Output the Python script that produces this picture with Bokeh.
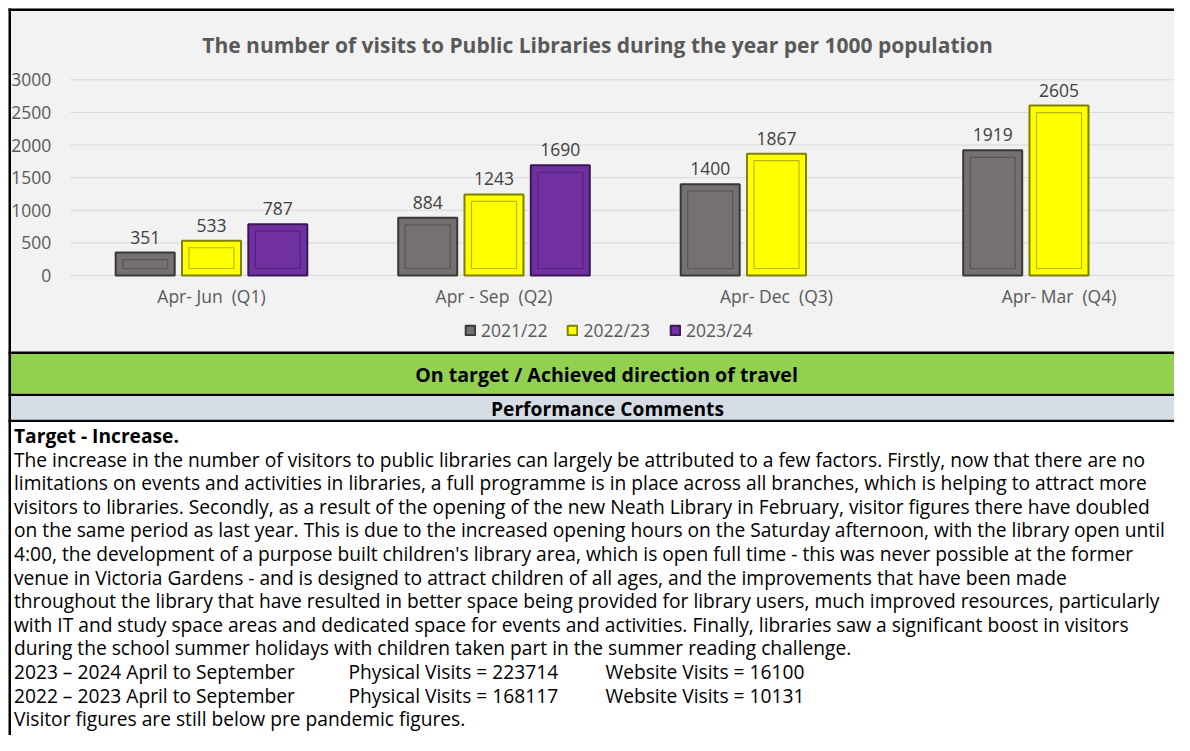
from bokeh.plotting import figure
from bokeh.models import Range1d, Legend, LegendItem, ColumnDataSource
from bokeh.transform import dodge
from bokeh.core.properties import value
from bokeh.embed import file_html
from bokeh.resources import INLINE

# ---------------- data ----------------
quarters = ["Apr- Jun  (Q1)", "Apr - Sep  (Q2)", "Apr- Dec  (Q3)", "Apr- Mar  (Q4)"]
series_names = ["2021/22", "2022/23", "2023/24"]
v_2021_22 = [351, 884, 1400, 1919]
v_2022_23 = [533, 1243, 1867, 2605]
v_2023_24 = [787, 1690]           # only Q1 and Q2 reported so far
y_ticks = [0, 500, 1000, 1500, 2000, 2500, 3000]

title_text = "The number of visits to Public Libraries during the year per 1000 population"
status_text = "On target / Achieved direction of travel"
comments_header = "Performance Comments"
target_line = "Target - Increase."
body_lines = [
    "The increase in the number of visitors to public libraries can largely be attributed to a few factors. Firstly, now that there are no",
    "limitations on events and activities in libraries, a full programme is in place across all branches, which is helping to attract more",
    "visitors to libraries. Secondly, as a result of the opening of the new Neath Library in February, visitor figures there have doubled",
    "on the same period as last year. This is due to the increased opening hours on the Saturday afternoon, with the library open until",
    "4:00, the development of a purpose built children's library area, which is open full time - this was never possible at the former",
    "venue in Victoria Gardens - and is designed to attract children of all ages, and the improvements that have been made",
    "throughout the library that have resulted in better space being provided for library users, much improved resources, particularly",
    "with IT and study space areas and dedicated space for events and activities. Finally, libraries saw a significant boost in visitors",
    "during the school summer holidays with children taken part in the summer reading challenge.",
]
periods = ["2023 \u2013 2024 April to September", "2022 \u2013 2023 April to September"]
physical_visits = [223714, 168117]
website_visits = [16100, 10131]
closing_line = "Visitor figures are still below pre pandemic figures."

# ---------------- styles / geometry ----------------
FONT = "Open Sans"
BG = "#f2f2f2"
GRAY = dict(fill="#767171", line="#3a3737", inner="#595555")
YELLOW = dict(fill="#ffff00", line="#7f7f00", inner="#b8b800")
PURPLE = dict(fill="#7030a0", line="#3a1856", inner="#55227c")
bar_styles = [GRAY, YELLOW, PURPLE]

W, H = 1174, 735
CAT_PX = 282.5          # pixels per category
CAT0_PX = 211.0         # canvas x of first category centre
VAL_ZERO_PX = 275.0     # canvas y of value 0
VAL_PER_PX = 3000 / 195.7
BAR_W = 59 / CAT_PX
OFF = 66.3 / CAT_PX
EDGE = 8                # outer white margin of the original panel

p = figure(width=W, height=H, output_backend="svg", toolbar_location=None,
           x_range=Range1d(0, W), y_range=Range1d(H, 0),
           x_axis_location=None, y_axis_location=None, min_border=0,
           background_fill_color="white", border_fill_color="white")
p.outline_line_color = None
p.grid.visible = False

# chart scales (category index / visits per 1000)
p.extra_x_ranges = {"cat": Range1d(-CAT0_PX / CAT_PX, (W - CAT0_PX) / CAT_PX)}
p.extra_y_ranges = {"val": Range1d(-(H - VAL_ZERO_PX) * VAL_PER_PX, VAL_ZERO_PX * VAL_PER_PX)}
CR = dict(x_range_name="cat", y_range_name="val")

# ---------------- panel backgrounds & rules ----------------
p.quad(left=[EDGE] * 7, right=[W] * 7,
       top=[EDGE, 351, 353.5, 393.3, 395.6, 419.3, EDGE],
       bottom=[351, 353.5, 393.3, 395.6, 419.3, 421.6, EDGE + 2.5],
       fill_color=[BG, "black", "#92d050", "black", "#d6dce4", "black", "black"],
       line_color=None)
p.quad(left=[EDGE], right=[EDGE + 2.5], top=[EDGE], bottom=[H], fill_color="black", line_color=None)

# ---------------- chart ----------------
n_cat = len(quarters)
CH = dict(text_font=value(FONT), text_font_size="17.5px")
p.segment(x0=[-0.5] * len(y_ticks), x1=[n_cat - 0.5] * len(y_ticks), y0=y_ticks, y1=y_ticks,
          line_color="#d9d9d9", line_width=1, **CR)
p.text(x=[-0.5] * len(y_ticks), y=y_ticks, text=[str(t) for t in y_ticks],
       x_offset=-19, text_align="right", text_baseline="middle",
       text_color="#595959", **CH, **CR)
p.text(x=list(range(n_cat)), y=[0] * n_cat, text=[q.replace("  ", " \u00a0") for q in quarters],
       y_offset=20, text_align="center", text_baseline="middle",
       text_color="#595959", **CH, **CR)

all_series = [v_2021_22, v_2022_23, v_2023_24]
offsets = [-OFF, 0.0, OFF]
renderers = []
for vals, off, st in zip(all_series, offsets, bar_styles):
    src = ColumnDataSource(dict(
        x=list(range(len(vals))), top=vals,
        inner_top=[v - 7 * VAL_PER_PX for v in vals],
        lbl=[str(v) for v in vals]))
    xs = dodge("x", off, range=p.extra_x_ranges["cat"])
    r = p.vbar(x=xs, top="top", bottom=0, width=BAR_W, source=src,
               fill_color=st["fill"], line_color=st["line"], line_width=2, **CR)
    p.vbar(x=xs, top="inner_top", bottom=7 * VAL_PER_PX, width=BAR_W - 14 / CAT_PX, source=src,
           fill_color=None, line_color=st["inner"], line_width=1.2, **CR)
    p.text(x=xs, y="top", text="lbl", source=src, y_offset=-9,
           text_align="center", text_baseline="bottom",
           text_color="#404040", **CH, **CR)
    renderers.append(r)

legend = Legend(items=[LegendItem(label=n, renderers=[r]) for n, r in zip(series_names, renderers)],
                orientation="horizontal", location=(464, 393),
                glyph_width=12, glyph_height=12, label_standoff=5, spacing=19,
                padding=0, margin=0, background_fill_alpha=0, border_line_color=None,
                label_text_font=FONT, label_text_font_size="17.5px", label_text_color="#595959")
p.add_layout(legend)

p.text(x=[597], y=[44], text=[title_text], text_align="center", text_baseline="middle",
       text_font=value(FONT), text_font_size="21px", text_font_style="bold", text_color="#595959")

# ---------------- status & comments ----------------
p.text(x=[606], y=[374], text=[status_text], text_align="center", text_baseline="middle",
       text_font=value(FONT), text_font_size="19.6px", text_font_style="bold", text_color="black")
p.text(x=[607], y=[408], text=[comments_header], text_align="center", text_baseline="middle",
       text_font=value(FONT), text_font_size="19.2px", text_font_style="bold", text_color="black")

LX = 13.5
Y0 = 435
STEP = 23.6
BODY = dict(text_baseline="middle", text_font=value(FONT), text_font_size="19.2px", text_color="black")
p.text(x=[LX], y=[Y0], text=[target_line], text_font_style="bold", **BODY)
ys = [Y0 + STEP * (i + 1) for i in range(len(body_lines))]
p.text(x=[LX] * len(body_lines), y=ys, text=body_lines, **BODY)
n0 = len(body_lines) + 1
vy = [Y0 + STEP * (n0 + i) for i in range(len(periods))]
p.text(x=[LX] * len(periods), y=vy, text=periods, **BODY)
p.text(x=[348] * len(periods), y=vy, text=[f"Physical Visits = {v}" for v in physical_visits], **BODY)
p.text(x=[605] * len(periods), y=vy, text=[f"Website Visits = {v}" for v in website_visits], **BODY)
p.text(x=[LX], y=[Y0 + STEP * (n0 + len(periods))], text=[closing_line], **BODY)

open("out.html", "w").write(file_html(p, INLINE))
